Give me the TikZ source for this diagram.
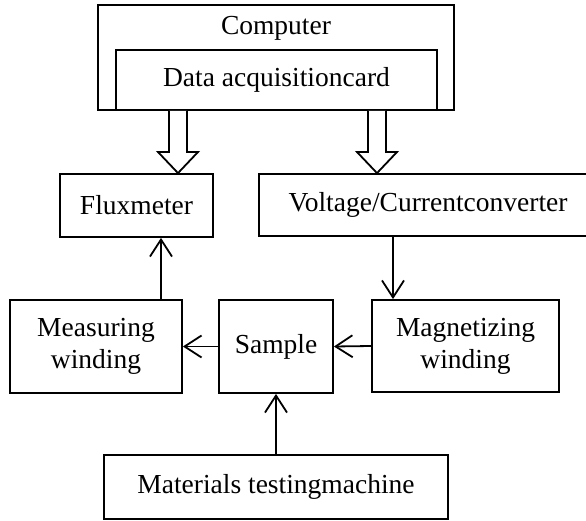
\documentclass[tikz,border=0pt]{standalone}
\usepackage{fontspec}
\setmainfont{Liberation Serif}
\usetikzlibrary{arrows.meta}
\begin{document}
\begin{tikzpicture}[x=1pt,y=-1pt,
  box/.style={draw,line width=1.8pt,inner sep=0pt,align=center,
    font=\fontsize{27.5}{32}\selectfont},
  lbl/.style={inner sep=0pt,font=\fontsize{27.5}{32}\selectfont},
  arr/.style={line width=1.8pt,-{Straight Barb[length=17pt,width=22pt,line width=1.8pt]}},
  fat/.style={line width=1.8pt,fill=white,line join=miter}]
\useasboundingbox (0,0) rectangle (586,521);

% computer with its data acquisition card
\node[box,minimum width=356pt,minimum height=105pt] (pc) at (276,57.5) {};
\node[lbl] (pclbl) at (276,28) {Computer};
\node[box,minimum width=321pt,minimum height=60pt] (daq) at (276.5,80) {Data acquisitioncard};

% instruments
\node[box,minimum width=153pt,minimum height=63pt] (flux) at (136.5,205.5) {Fluxmeter};
\node[box,minimum width=338pt,minimum height=62pt] (volt) at (428,205) {Voltage/Currentconverter};

\node[box,minimum width=172pt,minimum height=93pt] (meas) at (96,346.5) {Measuring\\winding};
\node[box,minimum width=114pt,minimum height=93pt] (smp) at (276,346.5) {Sample};
\node[box,minimum width=187pt,minimum height=92pt] (mag) at (465.5,346) {Magnetizing\\winding};
\node[box,minimum width=344pt,minimum height=64pt] (mtm) at (276,487) {Materials testingmachine};

% hollow bus arrows from the card
\foreach \c/\t in {178/flux,377/volt}{
  \draw[fat] (\c-9,0 |- daq.south) -- (\c-9,152) -- (\c-20,152)
    -- (\c,0 |- \t.north) -- (\c+20,152) -- (\c+9,152) -- (\c+9,0 |- daq.south);
}

% signal connectors
\draw[arr] (161,0 |- meas.north) -- (161,0 |- flux.south);
\draw[arr] (393,0 |- volt.south) -- (393,0 |- mag.north);
\draw[arr] (smp.west) -- (meas.east);
\draw[arr] (mag.west) -- (smp.east);
\draw[arr] (mtm.north) -- (smp.south);
\end{tikzpicture}
\end{document}
